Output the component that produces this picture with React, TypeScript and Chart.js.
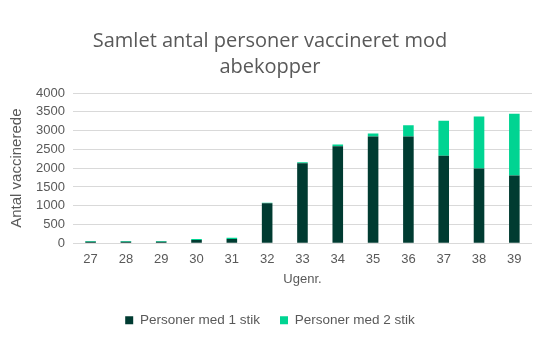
import React, { useEffect, useRef } from "react";
import { Chart, registerables } from "chart.js";

Chart.register(...registerables);

const weeks = ["27", "28", "29", "30", "31", "32", "33", "34", "35", "36", "37", "38", "39"];
const oneDose = [40, 40, 40, 90, 115, 1065, 2130, 2580, 2840, 2840, 2330, 1990, 1805];
const twoDoses = [20, 20, 20, 25, 30, 15, 25, 50, 80, 300, 930, 1385, 1645];
const yTicks = [0, 500, 1000, 1500, 2000, 2500, 3000, 3500, 4000];
const titleLines = ["Samlet antal personer vaccineret mod", "abekopper"];
const seriesNames = ["Personer med 1 stik", "Personer med 2 stik"];

const TITLE_FONT = "'Open Sans', 'Liberation Sans', sans-serif";
const FONT = "'Liberation Sans', Arial, sans-serif";
const GREY = "#595959";

export default function App() {
  const ref = useRef<HTMLCanvasElement>(null);
  useEffect(() => {
    document.body.style.margin = "0";
    const chart = new Chart(ref.current!, {
      type: "bar",
      data: {
        labels: weeks,
        datasets: [
          {
            label: seriesNames[0],
            data: oneDose,
            backgroundColor: "#003b31",
            barPercentage: 0.6,
            categoryPercentage: 0.5,
          },
          {
            label: seriesNames[1],
            data: twoDoses,
            backgroundColor: "#00d492",
            barPercentage: 0.6,
            categoryPercentage: 0.5,
          },
        ],
      },
      options: {
        animation: false,
        responsive: false,
        maintainAspectRatio: false,
        layout: { padding: { left: 8, right: 8, top: 0, bottom: 17 } },
        plugins: {
          title: {
            display: true,
            text: titleLines,
            color: GREY,
            font: { family: TITLE_FONT, size: 20, weight: "normal", lineHeight: 1.3 },
            padding: { top: 28, bottom: 13 },
          },
          legend: {
            position: "bottom",
            labels: {
              color: GREY,
              font: { family: FONT, size: 13.5 },
              boxWidth: 8,
              boxHeight: 8,
              padding: 20,
            },
          },
          tooltip: { enabled: false },
        },
        scales: {
          x: {
            stacked: true,
            grid: { display: false },
            border: { display: false },
            ticks: { color: GREY, font: { family: FONT, size: 13 }, padding: 0 },
            title: {
              display: true,
              text: "Ugenr.",
              color: GREY,
              font: { family: FONT, size: 13 },
              padding: { top: 5, bottom: 6 },
            },
          },
          y: {
            stacked: true,
            min: 0,
            max: 4000,
            afterBuildTicks: (axis: any) => {
              axis.ticks = yTicks.map((v) => ({ value: v }));
            },
            grid: { color: "#d9d9d9", drawTicks: false },
            border: { display: false },
            ticks: {
              color: GREY,
              font: { family: FONT, size: 13 },
              padding: 8,
              autoSkip: false,
              callback: (v: any) => String(v),
            },
            title: {
              display: true,
              text: "Antal vaccinerede",
              color: GREY,
              font: { family: FONT, size: 15 },
              padding: { top: 0, bottom: 2 },
            },
          },
        },
      },
    });
    return () => chart.destroy();
  }, []);
  return (
    <div style={{ width: 540, height: 354 }}>
      <canvas ref={ref} width={540} height={354} />
    </div>
  );
}
